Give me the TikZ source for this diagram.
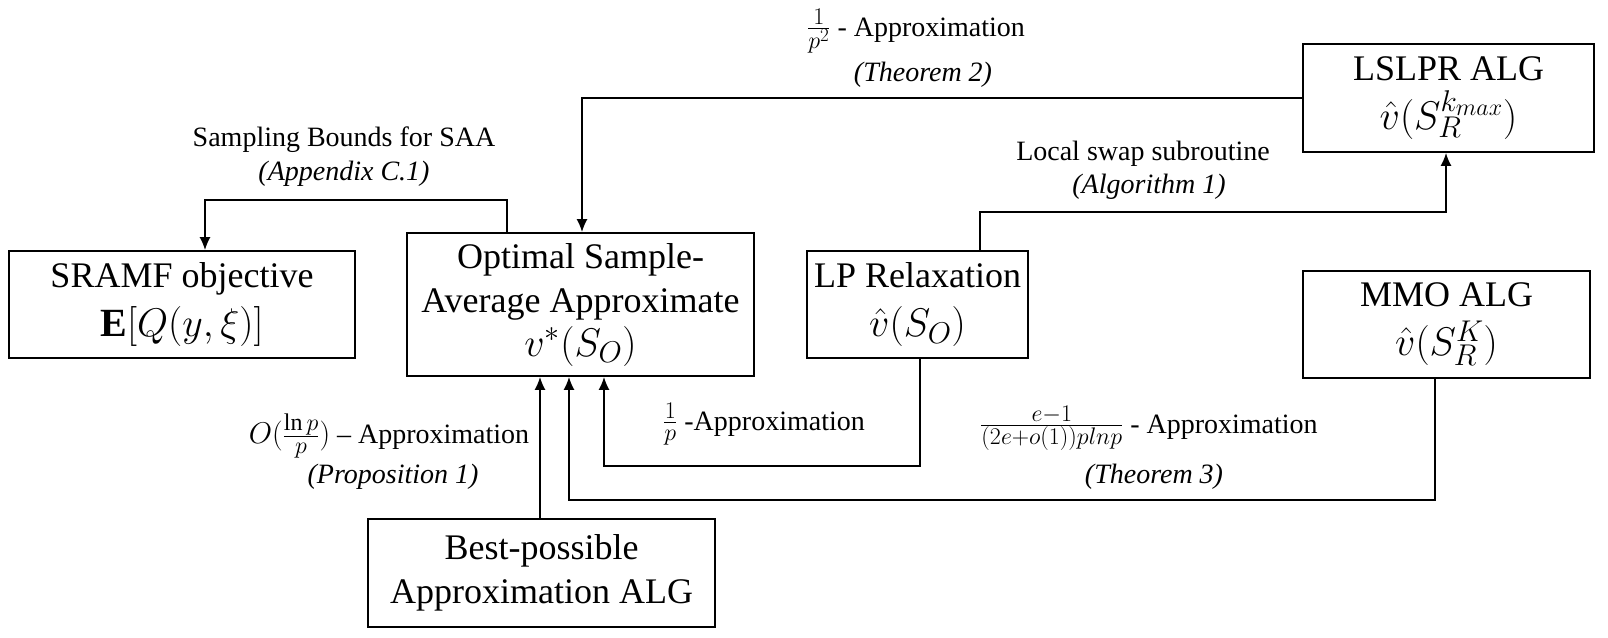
\RequirePackage{fix-cm}
\documentclass[tikz,border=0pt]{standalone}
\usepackage{fontspec}
\setmainfont{Liberation Serif}
\DeclareMathSizes{36}{40}{30}{24}
\DeclareMathSizes{28}{30}{24}{19}
\usetikzlibrary{arrows.meta}
\begin{document}
\begin{tikzpicture}[x=1pt,y=-1pt,
 box/.style={draw, line width=1.8pt, align=center, inner sep=0pt, font=\fontsize{36}{44}\selectfont},
 wide/.style={font=\fontsize{36}{49}\selectfont},
 lab/.style={align=center, inner sep=0pt, font=\fontsize{28}{33}\selectfont},
 arr/.style={line width=1.6pt, -{Latex[length=13pt,width=11pt]}}]
\useasboundingbox (0,0) rectangle (1608,637);

\node[box, wide, minimum width=346pt, minimum height=107pt] (sramf) at (182,304.5) {SRAMF objective\\ $\mathbf{E}[Q(y,\xi)]$};
\node[box, minimum width=347pt, minimum height=143pt] (opt) at (580.5,304.5) {Optimal Sample-\\Average Approximate\\ $v^{*}(S_{O})$};
\node[box, wide, minimum width=221pt, minimum height=107pt] (lp) at (917.5,304.5) {LP Relaxation\\ $\hat{v}(S_{O})$};
\node[box, wide, minimum width=287pt, minimum height=107pt] (mmo) at (1446.5,324.5) {MMO ALG\\ $\hat{v}(S_R^{K})$};
\node[box, wide, minimum width=291pt, minimum height=108pt] (lslpr) at (1448.5,98) {LSLPR ALG\\ $\hat{v}(S_R^{k_{max}})$};
\node[box, minimum width=347pt, minimum height=108pt] (best) at (541.5,573) {Best-possible\\Approximation ALG};

\coordinate (a1) at (507,200); \coordinate (a2) at (205,200);
\draw[arr] (a1 |- opt.north) -- (a1) -- (a2) -- (a2 |- sramf.north);

\coordinate (b1) at (582,98);
\draw[arr] (lslpr.west) -- (b1 |- lslpr.west) -- (b1 |- opt.north);

\coordinate (c1) at (980,212); \coordinate (c2) at (1446,212);
\draw[arr] (c1 |- lp.north) -- (c1) -- (c2) -- (c2 |- lslpr.south);

\coordinate (d1) at (920,466); \coordinate (d2) at (604,466);
\draw[arr] (d1 |- lp.south) -- (d1) -- (d2) -- (d2 |- opt.south);

\coordinate (e1) at (1435,500); \coordinate (e2) at (569,500);
\draw[arr] (e1 |- mmo.south) -- (e1) -- (e2) -- (e2 |- opt.south);

\coordinate (f1) at (540,0);
\draw[arr] (f1 |- best.north) -- (f1 |- opt.south);

\node[lab] (l1) at (344,140) {Sampling Bounds for SAA};
\node[lab] (l1b) at (344,174) {\textit{(Appendix C.1)}};
\node[lab] (l2) at (916,31) {$\frac{1}{p^{2}}$ - Approximation};
\node[lab] (l2b) at (923,75) {\textit{(Theorem 2)}};
\node[lab] (l3) at (1143,154) {Local swap subroutine};
\node[lab] (l3b) at (1149,187) {\textit{(Algorithm 1)}};
\node[lab] (l4) at (764,424) {$\frac{1}{p}$ -Approximation};
\node[lab] (l5) at (1149,428) {$\frac{e-1}{(2e+o(1))plnp}$ - Approximation};
\node[lab] (l5b) at (1154,477) {\textit{(Theorem 3)}};
\node[lab] (l6) at (389,436) {$O(\frac{\ln p}{p})$ -- Approximation};
\node[lab] (l6b) at (393,477) {\textit{(Proposition 1)}};
\end{tikzpicture}
\end{document}
